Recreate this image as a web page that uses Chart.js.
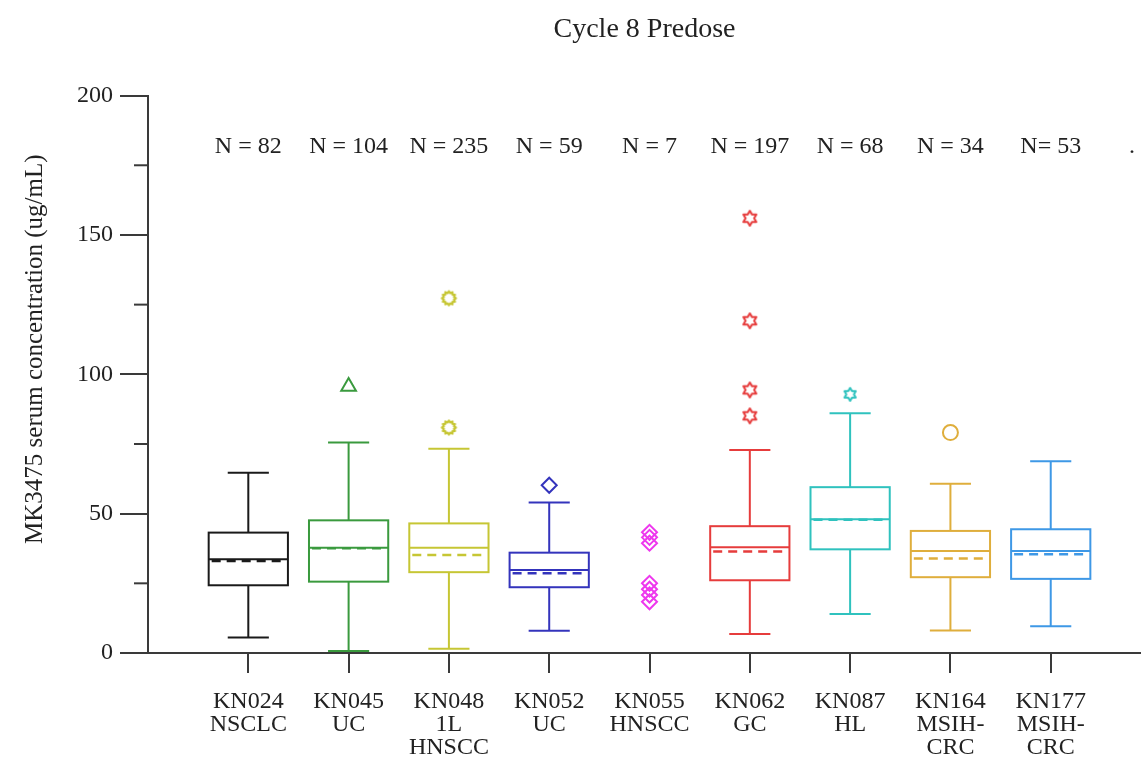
<!DOCTYPE html>
<html>
<head>
<meta charset="utf-8">
<title>Cycle 8 Predose</title>
<script src="https://cdn.jsdelivr.net/npm/chart.js@4.4.0/dist/chart.umd.min.js"></script>
<style>
  body { margin: 0; background: #fff; }
  canvas { display: block; }
</style>
</head>
<body>
<canvas id="boxChart" width="1141" height="760"></canvas>
<script>
// study groups on the x axis (multi-line labels)
var studies = [["KN024", "NSCLC"], ["KN045", "UC"], ["KN048", "1L", "HNSCC"], ["KN052", "UC"], ["KN055", "HNSCC"],
    ["KN062", "GC"], ["KN087", "HL"], ["KN164", "MSIH-", "CRC"], ["KN177", "MSIH-", "CRC"]];
var nCounts = ["N = 82", "N = 104", "N = 235", "N = 59", "N = 7", "N = 197", "N = 68", "N = 34", "N= 53"];

// box stats in ug/mL, null = no box for that group
var whiskerLow  = [5.6, 0.7, 1.5, 8.0, null, 6.8, 14.0, 8.1, 9.6];
var q1          = [24.3, 25.6, 29.0, 23.6, null, 26.1, 37.2, 27.2, 26.6];
var median      = [33.6, 37.8, 37.8, 29.8, null, 37.9, 48.0, 36.6, 36.6];
var mean        = [33.1, 37.6, 35.2, 28.6, null, 36.4, 47.8, 33.9, 35.4];
var q3          = [43.2, 47.6, 46.5, 36.0, null, 45.5, 59.5, 43.8, 44.4];
var whiskerHigh = [64.7, 75.5, 73.3, 54.0, null, 72.8, 86.0, 60.7, 68.8];

// single points drawn as markers
var outliers = [[], [95.6], [127.3, 80.9], [60.2], [43.3, 41.5, 39.4, 25.0, 22.9, 20.8, 18.4],
    [156.0, 119.2, 94.4, 85.1], [92.8], [79.1], []];

var yTicks = [0, 50, 100, 150, 200];
var yMinorTicks = [25, 75, 125, 175];

// styles
var groupColors = ["#1a1a1a", "#3a9a3e", "#c6c634", "#3434bc", "#ee38ee", "#e63c3c", "#2fc2be", "#dfae3c", "#3e98e6"];
var serif = "'Liberation Serif', 'Times New Roman', serif";
var axisColor = "#3a3a3a";

function starMarker(color, points, outer, inner, lw) {
    var size = Math.ceil(2 * (outer + lw)) + 2;
    var c = document.createElement("canvas");
    c.width = size;
    c.height = size;
    var g = c.getContext("2d");
    g.strokeStyle = color;
    g.lineWidth = lw;
    g.lineJoin = "round";
    g.beginPath();
    for (var k = 0; k < points * 2; k++) {
        var r = k % 2 === 0 ? outer : inner;
        var a = -Math.PI / 2 + k * Math.PI / points;
        var px = size / 2 + Math.cos(a) * r;
        var py = size / 2 + Math.sin(a) * r;
        if (k === 0) g.moveTo(px, py); else g.lineTo(px, py);
    }
    g.closePath();
    g.stroke();
    return c;
}

var markers = [
    {style: "circle", r: 6},
    {style: "triangle", r: 8.5},
    {style: starMarker(groupColors[2], 12, 7, 5.2, 2.2), r: 7},
    {style: "rectRot", r: 7.5},
    {style: "rectRot", r: 7.5},
    {style: starMarker(groupColors[5], 6, 7.5, 4.3, 2), r: 7},
    {style: starMarker(groupColors[6], 6, 6.5, 3.8, 2), r: 6},
    {style: "circle", r: 7.5},
    {style: "circle", r: 6}
];

var pointSets = [];
for (var i = 0; i < studies.length; i++) {
    if (outliers[i].length === 0) continue;
    pointSets.push({
        data: outliers[i].map(function (v) { return {x: i + 1, y: v}; }),
        pointStyle: markers[i].style,
        pointRadius: markers[i].r,
        pointBorderWidth: 2,
        pointBorderColor: groupColors[i],
        pointBackgroundColor: "rgba(0,0,0,0)",
        showLine: false
    });
}

function hline(ctx, x1, x2, y) {
    ctx.beginPath();
    ctx.moveTo(x1, y);
    ctx.lineTo(x2, y);
    ctx.stroke();
}

var boxPlugin = {
    id: "boxes",
    afterDatasetsDraw: function (chart) {
        var ctx = chart.ctx;
        var xs = chart.scales.x;
        var ys = chart.scales.y;
        ctx.save();
        for (var i = 0; i < studies.length; i++) {
            if (q1[i] === null) continue;
            var cx = xs.getPixelForValue(i + 1);
            var half = xs.getPixelForValue(i + 1.395) - cx;
            var cap = xs.getPixelForValue(i + 1.205) - cx;
            var yLo = ys.getPixelForValue(whiskerLow[i]);
            var yQ1 = ys.getPixelForValue(q1[i]);
            var yMed = ys.getPixelForValue(median[i]);
            var yMean = ys.getPixelForValue(mean[i]);
            var yQ3 = ys.getPixelForValue(q3[i]);
            var yHi = ys.getPixelForValue(whiskerHigh[i]);
            ctx.strokeStyle = groupColors[i];
            ctx.lineWidth = 2;
            ctx.setLineDash([]);
            ctx.strokeRect(cx - half, yQ3, 2 * half, yQ1 - yQ3);
            ctx.beginPath();
            ctx.moveTo(cx, yQ3);
            ctx.lineTo(cx, yHi);
            ctx.moveTo(cx, yQ1);
            ctx.lineTo(cx, yLo);
            ctx.stroke();
            hline(ctx, cx - cap, cx + cap, yHi);
            hline(ctx, cx - cap, cx + cap, yLo);
            hline(ctx, cx - half, cx + half, yMed);
            ctx.lineWidth = i === 0 ? 3 : 2.5;
            ctx.setLineDash([9, 6]);
            hline(ctx, cx - half + 3, cx + half - 3, yMean);
        }
        ctx.setLineDash([]);

        // minor ticks on the y axis
        ctx.strokeStyle = axisColor;
        ctx.lineWidth = 2;
        yMinorTicks.forEach(function (v) {
            var y = ys.getPixelForValue(v);
            hline(ctx, chart.chartArea.left - 14, chart.chartArea.left, y);
        });

        // group sizes across the top
        ctx.fillStyle = "#222";
        ctx.font = "24px " + serif;
        ctx.textAlign = "center";
        ctx.textBaseline = "middle";
        var yN = ys.getPixelForValue(181.5);
        nCounts.forEach(function (t, k) {
            ctx.fillText(t, xs.getPixelForValue(k + 1), yN);
        });
        ctx.fillText(".", xs.getPixelForValue(9.81), yN);

        // y axis title
        ctx.font = "25px " + serif;
        ctx.translate(35, ys.getPixelForValue(109));
        ctx.rotate(-Math.PI / 2);
        ctx.fillText("MK3475 serum concentration (ug/mL)", 0, 0);
        ctx.restore();
    }
};

var chartEl = document.getElementById("boxChart");
var boxChart = new Chart(chartEl, {
    type: "scatter",
    data: { datasets: pointSets },
    plugins: [boxPlugin],
    options: {
        responsive: false,
        animation: false,
        layout: { padding: 0, autoPadding: false },
        plugins: {
            legend: { display: false },
            tooltip: { enabled: false },
            title: {
                display: true,
                text: "Cycle 8 Predose",
                fullSize: false,
                color: "#222",
                font: { family: serif, size: 28, weight: "normal" },
                padding: { top: 13, bottom: 49 }
            }
        },
        scales: {
            x: {
                type: "linear",
                min: 0,
                max: 9.9,
                afterBuildTicks: function (scale) {
                    scale.ticks = studies.map(function (s, k) { return { value: k + 1 }; });
                },
                afterFit: function (scale) { scale.height = 107; },
                grid: { drawOnChartArea: false, drawTicks: true, tickLength: 20, color: axisColor, lineWidth: 2 },
                border: { color: axisColor, width: 2 },
                ticks: {
                    autoSkip: false,
                    maxRotation: 0,
                    padding: 17,
                    color: "#222",
                    font: { family: serif, size: 24, lineHeight: "23px" },
                    callback: function (value, index) { return studies[index]; }
                }
            },
            y: {
                min: 0,
                max: 200,
                afterBuildTicks: function (scale) {
                    scale.ticks = yTicks.map(function (v) { return { value: v }; });
                },
                afterFit: function (scale) { scale.width = 148; },
                grid: { drawOnChartArea: false, drawTicks: true, tickLength: 28, color: axisColor, lineWidth: 2 },
                border: { color: axisColor, width: 2 },
                ticks: {
                    padding: 7,
                    color: "#222",
                    font: { family: serif, size: 24 }
                }
            }
        }
    }
});
</script>
</body>
</html>
